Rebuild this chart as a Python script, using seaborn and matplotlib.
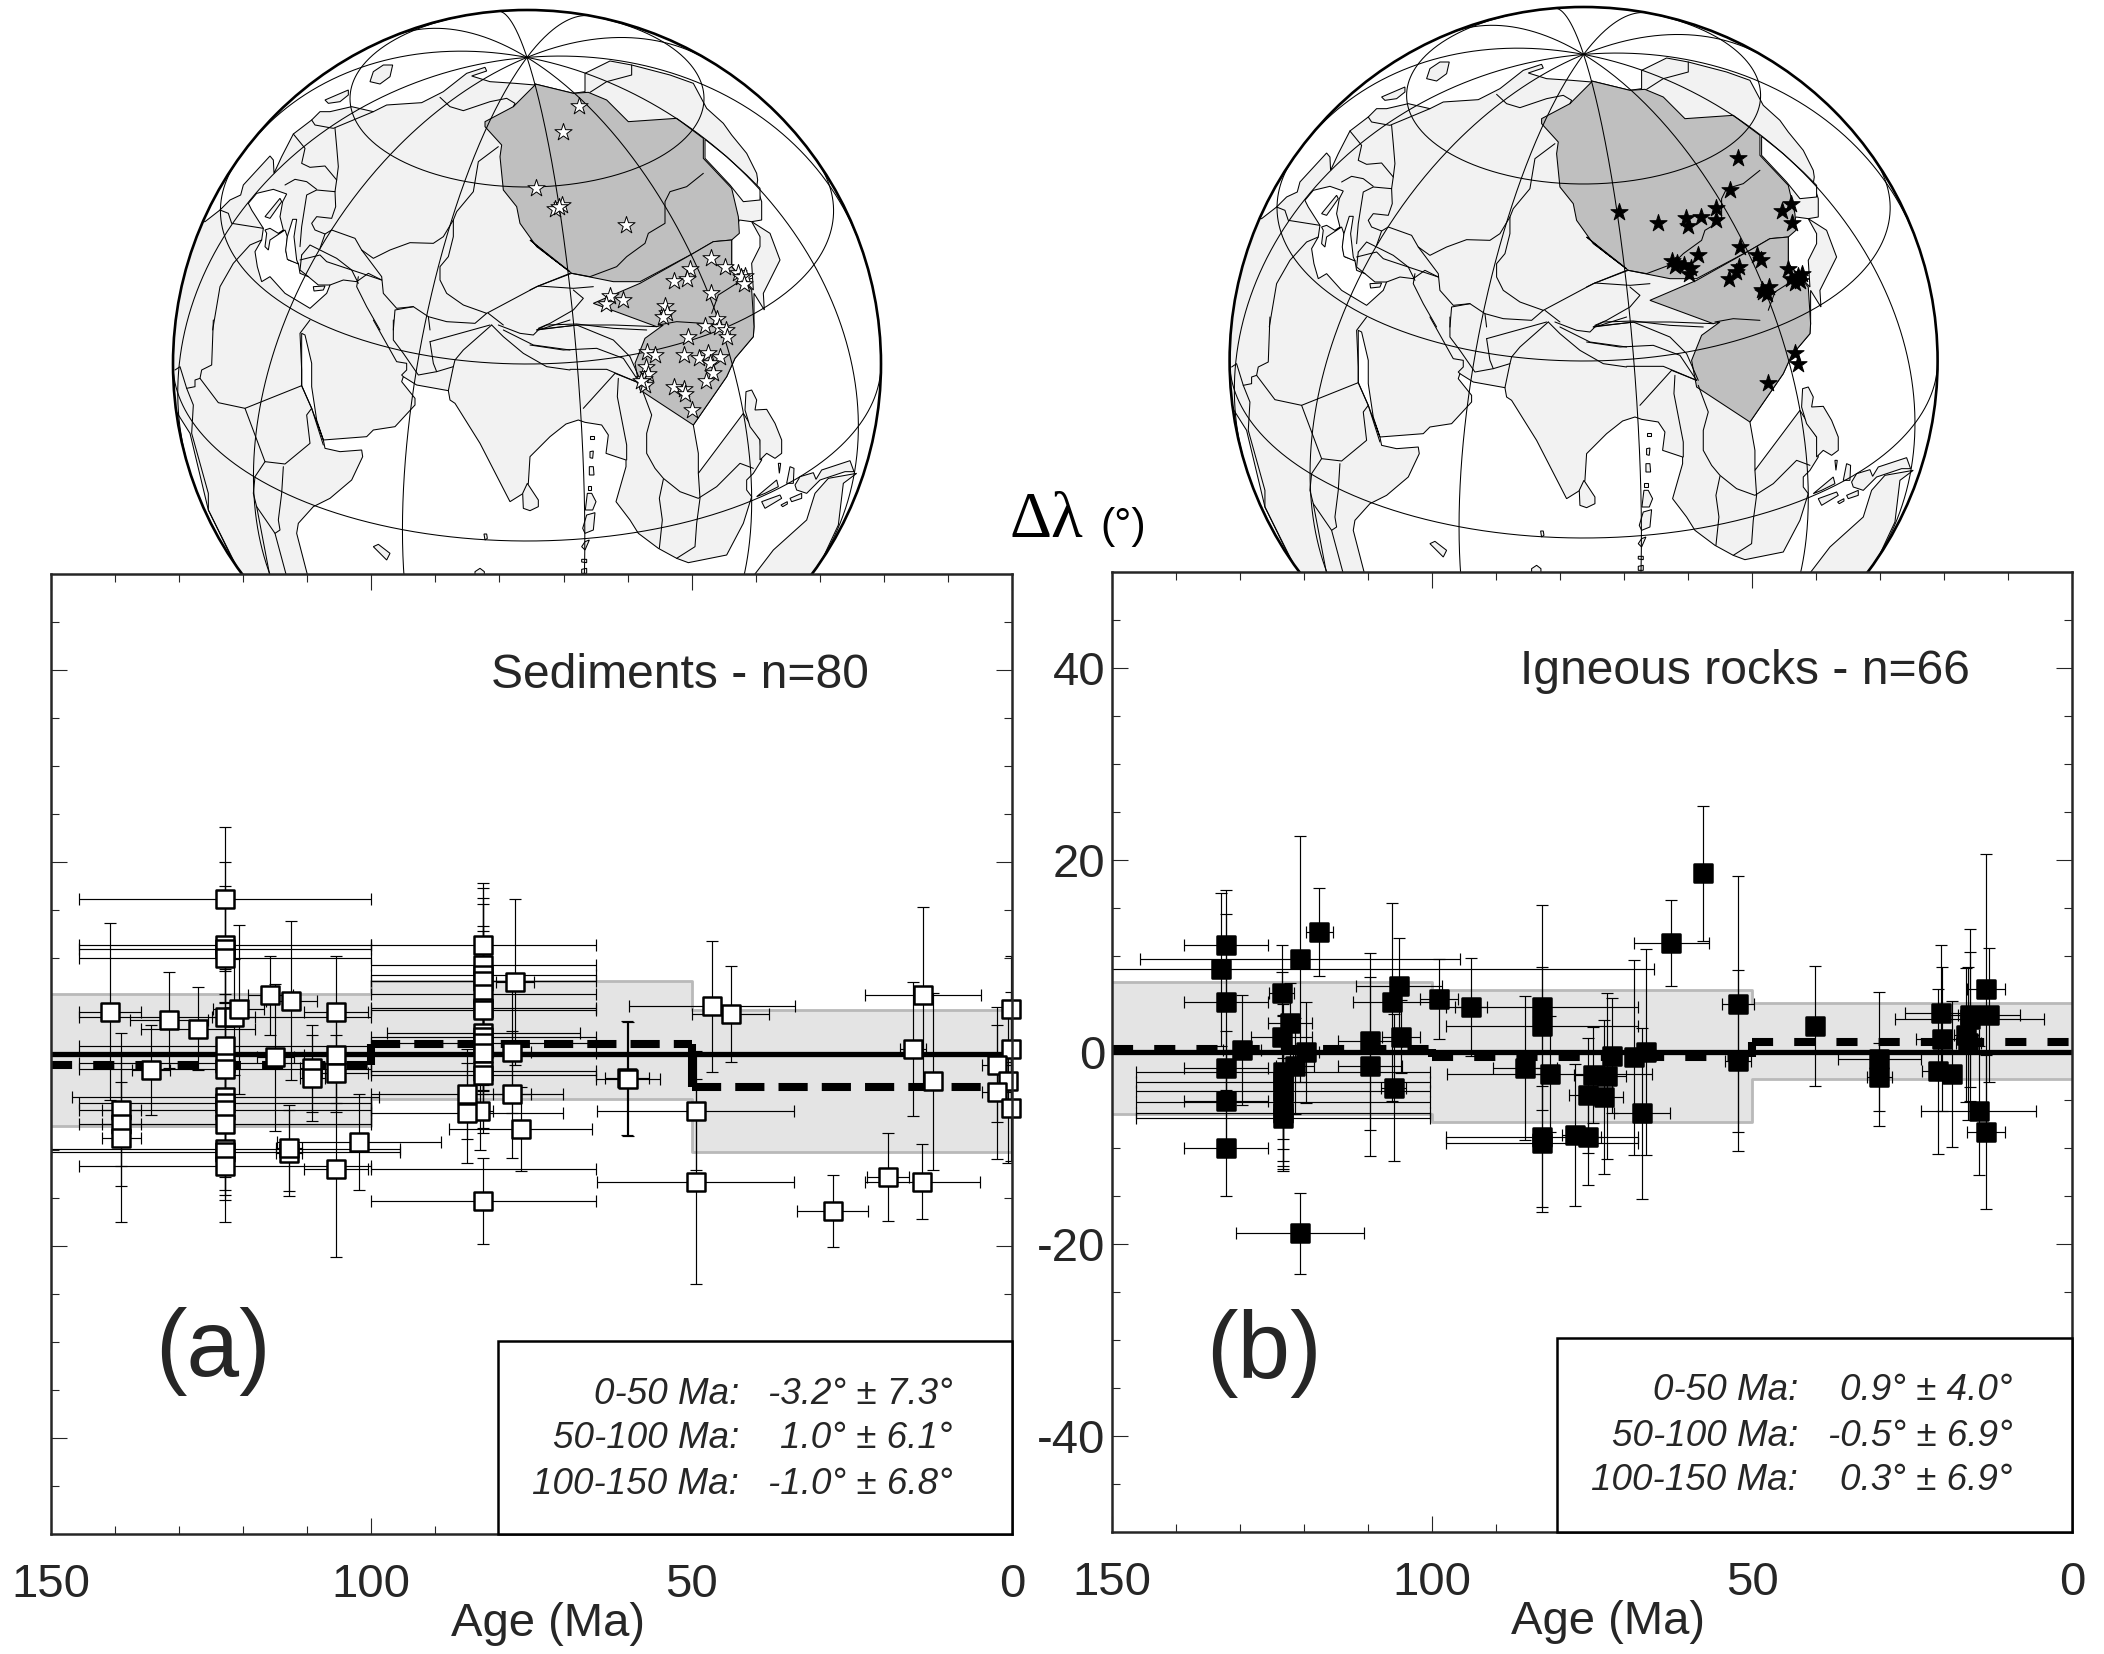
import numpy as np
import matplotlib
matplotlib.use("Agg")
import matplotlib.pyplot as plt
from matplotlib.patches import Circle, Polygon, Rectangle
import seaborn as sns

sns.set_theme(style="ticks")
plt.rcParams["font.family"] = ["Liberation Sans", "DejaVu Sans"]
plt.rcParams["axes.unicode_minus"] = False

# ---------------- panel (a): sediments ----------------
sed_age = [122.8,122.8,122.8,122.8,122.8,121.5,120.7,122.8,122.8,122.8,122.8,122.8,122.8,122.8,122.8,122.8,122.8,
           140.8,139,139,139,131.6,127,134.4,115.8,112.5,115,109.2,109.2,105.5,105.5,105.5,105.5,102,112.9,112.9,
           82.5,82.5,82.5,82.5,82.5,82.5,82.5,82.5,82.5,82.5,82.5,82.5,82.5,83,82.5,
           85.1,85.1,78,78,77.6,76.7,
           46.8,43.9,60.1,60,49.4,49.4,28,19.3,14,13.9,15.5,12.3,0.1,0.1,2.4,0.55,2.4,0.15]
sed_delta = [16.1,11.4,10.9,10.0,3.85,3.85,4.65,0.8,-0.9,-1.6,-4.5,-5.1,-5.8,-7.3,-9.9,-10.2,-11.7,
             4.4,-5.8,-7.3,-8.8,3.5,2.65,-1.7,6.1,5.55,-0.35,-1.5,-2.5,4.4,-0.1,-2.0,-12.0,-9.2,-10.3,-9.8,
             11.4,9.3,8.2,7.6,6.3,4.8,4.6,2.2,1.8,1.1,0.1,-1.75,-2.2,-5.9,-15.3,
             -4.2,-6.15,0.25,-4.2,7.5,-7.8,
             4.97,4.17,-2.5,-2.6,-5.9,-13.3,-16.4,-12.8,-13.3,6.1,0.5,-2.85,4.7,0.5,-1.1,-2.85,-3.95,-5.6]
sed_age_err = [22.8,22.8,22.8,22.8,22.8,3.4,4,22.8,22.8,22.8,24,22.8,22.8,22.8,27.2,27.2,22.8,
               4.9,3,3,3,6.1,8.9,3,3.5,4,2.9,2,2,5,5,5,5,12.8,2,2,
               17.6,17.6,17.6,17.6,17.6,17.6,17.6,15,17.6,17.6,17.6,17.6,17.6,2,17.6,
               15,15,3,3,3,11.2,
               13,6,3.5,5,15.4,15.4,5.6,3.3,9,9,2,1,0.8,0.8,2.3,1,2.3,0.8]
sed_delta_err = [7.5,6.1,5.5,10,5,6,8.8,5.5,5,5.5,5.5,6,7,6.9,4.8,5,5.8,
                 9.2,8,4.4,8.7,5,4.3,4.7,4.15,8.3,7.65,4.5,4.5,5.85,5,4,9.1,5,4.5,4.5,
                 6.4,8,8,8,7,8,6,6,6,5,6,6,6,4.1,4.45,
                 4.7,5.2,6.4,6.6,8.6,4.4,
                 6.8,5,5.9,5.9,6.2,10.7,3.75,4.6,3.9,9.2,7,9.2,5.5,6,6,8.5,7,5.5]
sed_bar_age = [82.5]
sed_bar_delta = [-12.0]
sed_bar_err = [17.5]

# ---------------- panel (b): igneous rocks ----------------
ign_age = [132.2,133,132.2,132.2,132.2,132.2,129.7,123.5,122.2,123.5,123.3,123.3,123.3,123.3,123.3,123.3,120.6,120.6,
           117.6,119.7,121.4,109.7,109.7,105.1,106.3,104.8,106,98.9,93.9,82.8,82.8,81.6,85.5,82.8,82.8,77.7,75.6,
           72.7,73.2,74.8,75.6,57.6,62.6,52.2,52.2,40.1,30.1,30.1,20.5,20.3,20.9,18.8,15.9,13,16.5,16.2,13.4,13.4,14.6,16,
           66.5,68.5,67.2,71.9]
ign_delta = [11.1,8.6,5.2,-1.7,-5.1,-10.05,0.2,6.1,3,1.6,-2.05,-3.1,-4.1,-5.2,-6.4,-6.9,9.7,-18.9,
             12.5,-0.05,-1.5,1.1,-1.5,6.9,5.2,1.6,-3.7,5.5,4.65,4.65,2.7,-2.3,-1.7,-8.9,-9.5,-8.65,-8.9,
             -2.5,-4.7,-2.4,-4.5,18.6,11.35,5,-0.9,2.7,-0.7,-2.6,4.1,1.4,-2,-2.25,3.85,3.85,1.75,0.9,6.6,-8.35,-6.1,3.4,
             0,-0.55,-6.4,-0.4]
ign_age_err = [6.5,0,6.5,6.5,6.5,6.5,3,2,3.5,4.8,23,23,23,23,23,23,25,10,
               2.1,2,3,5,5,6.7,6,3,2,3,2.5,15,15,16,5,15,15,2,2,
               3,3,3,3,1,5.9,2.5,2,1,6.5,2,5.6,4,2.5,1,4,4.8,2,2,2.95,2.95,8.95,11.6,
               1,1,4.4,1]
ign_delta_err = [5.8,8,9.2,3.9,5,5,5.7,5,4.2,6.7,7,7,7.8,6.2,5.8,5.5,12.8,4.2,
                 4.6,5.3,5,9.2,9.3,5,10.3,3.8,7.7,4.15,5.1,10.65,6.2,6,7.5,7.2,7.2,7.4,5,
                 8.6,8,5,6,7,4.45,13.3,9.45,6.25,7,3.5,7,7.5,8.6,7.6,9,7,7,8,14,8,6.7,7,
                 10.7,10.15,8.9,6]
ign_bar_age = [107.85]
ign_bar_delta = [8.6]
ign_bar_err = [42.55]

# bins: 0-50, 50-100, 100-150 Ma
bin_edges = [0, 50, 100, 150]
sed_mean = [-3.2, 1.0, -1.0]
sed_sd = [7.3, 6.1, 6.8]
ign_mean = [0.9, -0.5, 0.3]
ign_sd = [4.0, 6.9, 6.9]
sed_step = [-3.4, 1.05, -1.18]
sed_band_hi = [4.55, 7.6, 6.2]
sed_band_lo = [-10.2, -4.7, -7.5]
ign_step = [1.0, -0.5, 0.27]
ign_band_hi = [5.1, 6.5, 7.3]
ign_band_lo = [-2.85, -7.3, -6.5]
bin_names = ["0-50 Ma:", "50-100 Ma:", "100-150 Ma:"]

x_major = [150, 100, 50, 0]
x_labels = ["150", "100", "50", "0"]
y_major = [40, 20, 0, -20, -40]
y_labels = ["40", "20", "0", "-20", "-40"]

# ---------------- globe outlines, traced on four crops of the left globe ----------------
A, B, C, D = (170, 60), (170, 320), (530, 60), (530, 320)
land_nw = [(105,485),(150,450),(180,420),(212,405),(220,375),(300,288),(310,300),(312,340),(335,290),(370,222),(425,180),
           (450,155),(480,155),(545,140),(610,155),(650,135),(755,128),(820,95),(890,40),(945,22),(950,33),(905,48),
           (960,65),(1035,70),(1095,75)]
land_ne = [(15,72),(130,100),(165,95),(165,40),(240,3),(305,15),(420,45),(490,70),(530,145),(580,190),(605,225),(650,280),
           (680,340),(683,360),(680,380),(695,425),(695,480),(665,485),(720,520),(750,600),(720,660),(700,700),(703,750),
           (672,700),(672,800)]
land_se = [(670,50),(615,115),(590,170),(490,315),(505,400),(505,460),(640,280),(690,360),(695,420),(670,460),(650,480),
           (650,510),(665,530),(640,610),(590,705),(475,728),(440,715),(385,685),(325,640),(300,600),(258,545),(288,440),
           (288,420),(228,400),(235,345),(215,315),(165,307),(145,300),(108,312),(60,350),(0,410)]
land_sw = [(1080,410),(1075,490),(1060,520),(1020,545),(930,370),(855,250),(840,240),(835,212),(740,195),(700,170),(695,185),
           (735,235),(735,255),(675,320),(610,330),(590,350),(460,360),(465,385),(510,395),(575,390),(578,410),(545,480),
           (480,535),(430,560),(385,610),(380,640),(415,775),(215,775),(115,570),(60,340),(-60,150),(-60,-300)]

islands = [
    (A, [(600,65),(610,35),(640,15),(668,15),(660,50),(630,72)]),
    (A, [(465,120),(500,105),(535,90),(535,105),(510,125),(475,130)]),
    (A, [(285,470),(330,415),(335,425),(300,475)]),
    (A, [(430,680),(465,678),(460,690),(432,693)]),
    (B, [(1072,490),(1105,540),(1105,560),(1080,572),(1060,565),(1058,520)]),
    (B, [(610,680),(625,673),(660,700),(650,720),(625,695)]),
    (B, [(915,755),(930,745),(943,755),(943,775),(915,775)]),
    (B, [(942,642),(950,642),(952,655),(945,660)]),
    (D, [(181,348),(192,348),(192,358),(181,358)]),
    (D, [(180,395),(190,393),(188,415),(180,413)]),
    (D, [(178,440),(190,440),(192,465),(178,465)]),
    (D, [(173,498),(184,498),(184,510),(173,510)]),
    (D, [(172,520),(185,520),(198,545),(188,570),(166,570)]),
    (D, [(170,585),(195,578),(190,630),(165,640),(158,625)]),
    (D, [(165,665),(178,660),(165,690),(155,680)]),
    (D, [(155,718),(170,718),(170,728),(155,726)]),
    (D, [(155,748),(170,745),(170,760),(155,760)]),
    (D, [(648,215),(665,210),(680,240),(675,270),(710,268),(735,310),(755,360),(755,400),(735,415),(710,400),(690,420),(690,360),(660,320),(645,270)]),
    (D, [(745,430),(752,430),(748,460)]),
    (D, [(770,490),(780,440),(792,445),(790,490)]),
    (D, [(680,530),(740,480),(745,500),(705,520)]),
    (D, [(695,545),(750,525),(755,535),(705,565)]),
    (D, [(753,555),(772,545),(772,552),(758,560)]),
    (D, [(780,535),(815,520),(815,535),(785,545)]),
    (D, [(795,495),(810,470),(850,458),(858,478),(875,450),(960,422),(972,455),(945,455),(870,480),(830,520),(800,510)]),
    (D, [(980,460),(940,490),(925,615),(850,775),(665,775),(730,690),(830,600),(855,520),(895,475)]),
]
seas = [
    (A, [(235,430),(260,400),(310,388),(350,402),(338,425),(330,470),(340,510),(325,520),(300,505),(285,510),(290,520),(285,560),(295,570),(300,540),(345,510),(352,530),(348,575),(355,600),(385,610),(390,640),(415,650),(445,675),(480,675),(470,700),(420,745),(395,730),(345,700),(300,650),(275,665),(262,620),(255,575),(275,540),(280,505),(245,450)]),
    (A, [(368,478),(380,478),(372,530),(380,600),(385,612),(352,598),(347,570),(352,530)]),
    (B, [(395,40),(405,45),(425,130),(425,200),(440,300),(460,360),(425,265),(395,197)]),
    (C, [(525,238),(590,290),(650,345),(690,385),(690,420),(640,425),(600,375),(525,295)]),
    (C, [(628,480),(665,485),(690,530),(690,560),(665,610),(670,690),(605,620),(605,540)]),
]
block_north = [(A, [(1095,75)]),
               (C, [(15,72),(130,100),(175,97),(230,120),(295,185),(440,175),(520,235),(520,295),(605,385),(625,470),(628,520),(605,540),(550,545),(490,580),(330,665),(250,665),(125,640),(60,590),(0,540)]),
               (A, [(1200,635),(1100,560),(1050,490),(1040,440),(1000,390),(990,290),(995,255),(945,200),(945,185),(1030,140)])]
block_south = [(C, [(190,730),(330,670),(490,580),(550,545),(605,540),(605,620),(665,690),(672,800)]),
               (D, [(670,50),(615,115),(590,170),(490,315),(330,210),(315,130),(345,55),(400,15)]),
               (C, [(380,800)])]
borders = [
    (C, [(520,340),(470,380),(420,395),(405,425),(405,490),(355,520),(345,550),(290,590),(260,620),(180,650),(125,640)]),
    (C, [(545,760),(565,705),(620,670),(665,655)]), (C, [(385,795),(440,785),(520,790)]),
    (C, [(305,15),(305,45),(230,65),(180,97)]),
    (A, [(370,222),(405,265),(395,310),(420,322),(465,318),(500,360)]),
    (A, [(495,205),(500,260),(505,320),(500,360),(495,395),(440,390),(410,405),(395,500),(390,560)]),
    (A, [(345,375),(375,358),(410,365),(440,388)]), (A, [(425,180),(435,195),(490,205),(610,155)]),
    (A, [(495,395),(497,440),(485,475),(440,470),(425,490),(435,510),(465,522),(450,565)]),
    (A, [(465,522),(485,510),(555,535),(575,570),(610,595),(660,570),(720,548),(790,550),(820,530),(850,480),(860,455),(910,395),(925,305),(985,260)]),
    (A, [(810,112),(840,140),(880,152),(960,125),(1010,115),(1035,130),(1030,140)]),
    (A, [(850,480),(850,530),(835,590),(810,620),(810,660),(830,700),(880,735),(950,760),(915,790),(830,785),(775,770)]),
    (A, [(575,570),(635,650),(640,700),(680,745),(730,740),(775,770),(780,810)]),
    (A, [(395,585),(420,555),(500,595),(545,630),(565,670)]), (A, [(390,600),(450,585),(470,605),(530,625),(635,660)]),
    (A, [(395,585),(390,630),(415,650)]), (A, [(480,675),(520,660),(560,665),(595,640),(635,660)]),
    (A, [(565,650),(560,680),(590,740),(630,810)]), (A, [(670,810),(675,750),(730,740)]),
    (A, [(150,450),(175,460),(185,490),(280,505)]), (A, [(275,540),(240,555),(190,610),(150,680),(128,810)]),
    (A, [(950,760),(1100,680),(1200,640)]), (A, [(955,760),(1000,795)]),
    (C, [(0,690),(25,678),(130,685),(190,680)]), (C, [(25,678),(125,640)]),
    (C, [(130,690),(160,715),(130,750),(60,790),(25,805)]), (C, [(25,808),(145,795),(250,795),(380,800)]),
    (B, [(130,0),(125,135),(95,150),(90,175),(75,180),(75,200),(50,205),(30,140),(15,150)]),
    (B, [(90,175),(145,248),(225,265),(395,197),(395,150),(390,40),(420,0)]),
    (B, [(225,265),(285,425),(345,432),(420,370),(410,285),(425,265)]),
    (B, [(285,425),(255,470),(250,520),(260,560),(315,640),(330,630),(325,600),(335,520),(340,440)]),
    (B, [(315,640),(350,770)]), (B, [(260,560),(300,770)]),
    (B, [(50,205),(70,255),(65,340),(115,520),(115,570),(215,770)]),
    (B, [(395,197),(425,265),(460,375)]),
    (B, [(610,0),(680,125),(710,130),(710,150),(695,165),(700,170)]),
    (B, [(670,0),(670,60),(700,100),(745,165),(800,155),(850,140)]),
    (B, [(780,65),(790,130),(800,155)]), (B, [(780,65),(960,15)]),
    (B, [(965,15),(880,90),(855,120),(850,140),(835,212)]),
    (B, [(965,15),(1000,50),(1060,100),(1130,140),(1200,150)]),
    (B, [(985,15),(1050,40),(1090,45),(1105,30),(1200,0)]), (B, [(1000,30),(1090,75),(1200,90)]),
    (D, [(0,75),(100,90),(200,85),(280,115),(330,190)]), (D, [(120,148),(230,148),(330,190)]),
    (D, [(20,30),(140,15),(250,60),(300,110),(335,190)]), (D, [(20,30),(50,15),(140,12),(250,25),(350,30)]),
    (D, [(160,265),(255,160),(330,190)]), (D, [(265,175),(262,230),(290,375),(290,420)]),
    (D, [(335,205),(365,285),(350,340),(350,400),(375,445),(400,475),(450,515),(505,535),(560,500),(630,430),(670,445)]),
    (D, [(505,460),(510,535),(500,610),(495,680),(440,715)]), (D, [(400,478),(388,535),(397,600),(388,685)]),
]

# star positions, in a 2.119 x 2.703 scaled view of each globe
sed_star_x = [887,855,797,852,838,845,988,1168,1197,1123,1116,1090,1225,1240,1232,1237,1168,953,982,945,1070,1075,1065,1180,1155,1185,1200,1202,1118,1032,1048,1110,1142,1162,1187,1165,1172,1157,1030,1035,1025,1027,1090,1110,1112,1127,1020]
sed_star_y = [287,357,507,553,565,560,608,698,723,728,755,760,738,745,750,768,793,800,812,822,828,845,858,862,882,885,892,910,912,952,960,960,968,953,965,980,1007,1030,992,1010,1025,1040,1045,1052,1065,1108,1030]
ign_star_x = [1118,1101,867,950,1008,1012,1040,1072,1073,1232,1212,1233,1123,1035,1160,1167,980,990,1005,1020,1015,985,1122,1115,1100,1225,1232,1245,1250,1240,1255,1185,1172,1180,1170,1240,1247,1182]
ign_star_y = [428,513,573,602,588,610,587,563,595,552,570,603,667,688,690,702,705,712,715,725,740,720,722,735,755,728,755,745,760,765,740,775,790,795,785,955,985,1035]

fig = plt.figure(figsize=(21.04, 16.54), dpi=100, facecolor="white")
W, H = 2104.0, 1654.0

ax_map = fig.add_axes([0, 0, 1, 1], zorder=0)
ax_map.set_xlim(0, W)
ax_map.set_ylim(H, 0)
ax_map.axis("off")


def crop_px(org, pts, dx, dy):
    a = np.asarray(pts, dtype=float)
    return np.c_[org[0] + a[:, 0] / 3 + dx, org[1] + a[:, 1] / 3 + dy]


def join_px(parts, dx, dy):
    return np.vstack([crop_px(o, p, dx, dy) for o, p in parts])


def draw_globe(dx, dy, star_ox, star_x, star_y, star_face):
    cx, cy, R = 527.0 + dx, 364.0 + dy, 354.0
    clip = Circle((cx, cy), R, transform=ax_map.transData)
    lw = 0.75
    land = join_px([(A, land_nw), (C, land_ne), (D, land_se), (B, land_sw)], dx, dy)
    p = Polygon(land, closed=True, fc="#F2F2F2", ec="black", lw=lw, zorder=1)
    ax_map.add_patch(p); p.set_clip_path(clip)
    for o, isl in islands:
        p = Polygon(crop_px(o, isl, dx, dy), closed=True, fc="#F2F2F2", ec="black", lw=lw, zorder=1.6)
        ax_map.add_patch(p); p.set_clip_path(clip)
    for o, sea in seas:
        ax_map.add_patch(Polygon(crop_px(o, sea, dx, dy), closed=True, fc="white", ec="black", lw=lw, zorder=1.5))
    for blk in (block_north, block_south):
        ax_map.add_patch(Polygon(join_px(blk, dx, dy), closed=True, fc="#BFBFBF", ec="black", lw=lw, zorder=2))
    for o, b in borders:
        q = crop_px(o, b, dx, dy)
        l, = ax_map.plot(q[:, 0], q[:, 1], color="black", lw=lw, zorder=3)
        l.set_clip_path(clip)
    lat0 = np.radians(30.0)

    def proj(lat, dlon):
        x = np.cos(lat) * np.sin(dlon)
        y = np.cos(lat0) * np.sin(lat) - np.sin(lat0) * np.cos(lat) * np.cos(dlon)
        z = np.sin(lat0) * np.sin(lat) + np.cos(lat0) * np.cos(lat) * np.cos(dlon)
        x = np.where(z >= 0, x, np.nan)
        return cx + R * x, cy - R * y

    t = np.radians(np.linspace(-180, 180, 721))
    for lat in (60, 30, 0, -30):
        gx, gy = proj(np.radians(lat) * np.ones_like(t), t)
        ax_map.plot(gx, gy, color="black", lw=lw, zorder=3.5)
    la = np.radians(np.linspace(-90, 90, 361))
    for k in range(12):
        gx, gy = proj(la, np.radians(9.4 + 30 * k) * np.ones_like(la))
        ax_map.plot(gx, gy, color="black", lw=lw, zorder=3.5)
    ax_map.add_patch(Circle((cx, cy), R, fc="none", ec="black", lw=1.9, zorder=4))
    sx = star_ox + np.asarray(star_x, float) / 2.119
    sy = np.asarray(star_y, float) / 2.703
    sns.scatterplot(x=sx, y=sy, ax=ax_map, marker="*", s=170, color=star_face,
                    edgecolor="black", linewidth=0.7, zorder=5, legend=False)


draw_globe(0.0, 0.0, 160.0, sed_star_x, sed_star_y, "white")
draw_globe(1056.6, -3.0, 1210.0, ign_star_x, ign_star_y, "black")
ax_map.set_xlim(0, W)
ax_map.set_ylim(H, 0)
ax_map.text(1010, 537, "\u0394\u03bb", family="Liberation Serif", fontsize=47, ha="left", va="baseline", color="black")
ax_map.text(1100, 538, "(\u00b0)", fontsize=31, ha="left", va="baseline", color="black")


def axes_px(x0, x1, y0, y1):
    ax = fig.add_axes([x0 / W, 1 - y1 / H, (x1 - x0) / W, (y1 - y0) / H], zorder=2)
    ax.set_facecolor("white")
    return ax


def draw_panel(ax, age, delta, age_err, delta_err, bar_age, bar_delta, bar_err, step, hi3, lo3, face, dash_spec, lab_x):
    ed = bin_edges
    xs = [ed[0], ed[1], ed[1], ed[2], ed[2], ed[3]]
    hi = [hi3[0]] * 2 + [hi3[1]] * 2 + [hi3[2]] * 2
    lo = [lo3[0]] * 2 + [lo3[1]] * 2 + [lo3[2]] * 2
    ax.fill_between(xs, lo, hi, color="#E4E4E4", lw=0, zorder=1)
    ax.plot(xs, hi, color="#B9B9B9", lw=2.0, zorder=1.2)
    ax.plot(xs, lo, color="#B9B9B9", lw=2.0, zorder=1.2)
    ax.errorbar(age, delta, xerr=age_err, yerr=delta_err, fmt="none", ecolor="black", elinewidth=0.85,
                capsize=4.4, capthick=0.85, zorder=2)
    ax.errorbar(bar_age, bar_delta, xerr=bar_err, fmt="none", ecolor="black", elinewidth=0.85,
                capsize=4.4, capthick=0.85, zorder=2)
    sns.lineplot(x=[150, 0], y=[0, 0], ax=ax, color="black", lw=3.8, zorder=3, errorbar=None, sort=False)
    for i, (on, off) in enumerate(dash_spec):
        sns.lineplot(x=[ed[i + 1], ed[i]], y=[step[i], step[i]], ax=ax, color="black", lw=5.8, zorder=3,
                     errorbar=None, sort=False)
        ax.lines[-1].set_linestyle((0, (on, off)))
        ax.lines[-1].set_dash_capstyle("butt")
    ax.vlines(ed[1:3], step[:2], step[1:], color="black", lw=5.8, zorder=3)
    sns.scatterplot(x=age, y=delta, ax=ax, marker="s", s=175, color=face, edgecolor="black", linewidth=1.8,
                    zorder=4, legend=False, clip_on=False)
    ax.set_xlim(150, 0)
    ax.set_ylim(-50, 50)
    ax.set_xticks(x_major)
    ax.set_xticks(np.arange(0, 151, 10), minor=True)
    ax.set_yticks(y_major)
    ax.set_yticks(np.arange(-45, 50, 5), minor=True)
    ax.tick_params(which="major", direction="in", length=11.5, width=0.8, top=True, right=True, bottom=True, left=True)
    ax.tick_params(which="minor", direction="in", length=5.8, width=0.8, top=True, right=True, bottom=True, left=True)
    ax.tick_params(axis="x", which="major", labelsize=34, pad=21)
    ax.set_xticklabels(x_labels)
    ax.set_xlabel("Age (Ma)", fontsize=34, va="center")
    ax.xaxis.set_label_coords(lab_x, -0.094)
    ax.set_ylabel("")
    for sp in ax.spines.values():
        sp.set_linewidth(1.8)
        sp.set_zorder(10)


ax_a = axes_px(51, 1012, 574, 1534)
draw_panel(ax_a, sed_age, sed_delta, sed_age_err, sed_delta_err, sed_bar_age, sed_bar_delta, sed_bar_err,
           sed_step, sed_band_hi, sed_band_lo, "white", [(3.62, 1.75), (3.62, 1.75), (2.62, 2.62)], 0.5167)
ax_a.set_yticklabels([])
ax_b = axes_px(1112, 2072, 572, 1532)
draw_panel(ax_b, ign_age, ign_delta, ign_age_err, ign_delta_err, ign_bar_age, ign_bar_delta, ign_bar_err,
           ign_step, ign_band_hi, ign_band_lo, "black", [(2.62, 2.62), (2.62, 2.62), (2.62, 2.62)], 0.5167)
ax_b.set_yticklabels(y_labels, fontsize=34)
ax_b.tick_params(axis="y", which="major", labelsize=34, pad=5)


def add_box(x_right, y_bottom, title, tx, ty, tag, gx, gy, box_left, box_top, mean, sd, rows_y, col1, col2):
    ov = fig.add_axes([0, 0, 1, 1], zorder=5)
    ov.set_xlim(0, W); ov.set_ylim(H, 0); ov.axis("off")
    ov.add_patch(Rectangle((box_left, box_top), x_right - box_left, y_bottom - box_top,
                           fc="white", ec="black", lw=1.8, zorder=2))
    ov.text(tx, ty, title, fontsize=34.6, ha="center", va="center")
    ov.text(gx, gy, tag, fontsize=68, ha="center", va="center")
    for i in range(3):
        v = "%.1f\u00b0 \u00b1 %.1f\u00b0" % (mean[i], sd[i])
        ov.text(col1, rows_y[i], bin_names[i], fontsize=26.5, style="italic", ha="right", va="center", zorder=3)
        ov.text(col2, rows_y[i], v, fontsize=26.5, style="italic", ha="right", va="center", zorder=3)


add_box(1012, 1534, "Sediments - n=80", 680, 675, "(a)", 213, 1351, 498, 1341, sed_mean, sed_sd, [1394, 1439, 1484], 739, 953)
add_box(2072, 1532, "Igneous rocks - n=66", 1745, 671, "(b)", 1264, 1353, 1557, 1338, ign_mean, ign_sd, [1391, 1436, 1481], 1798, 2013)

fig.savefig("out.png", dpi=100, facecolor="white")
